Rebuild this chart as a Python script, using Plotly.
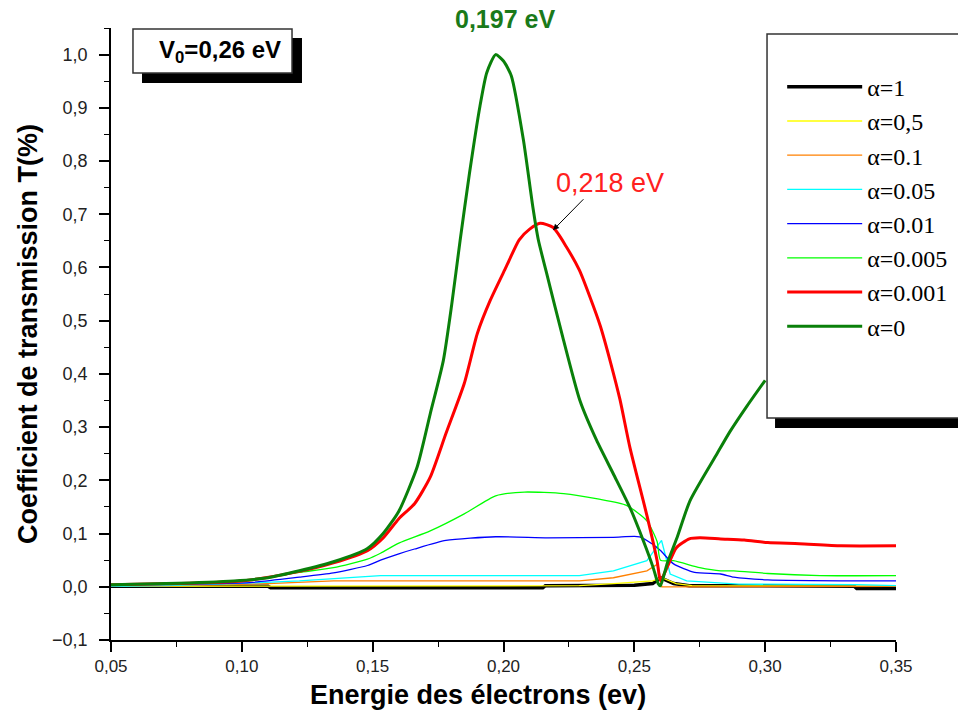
import plotly.graph_objects as go

# ---- data ----
x_a1 = [0.050, 0.110, 0.111, 0.215, 0.216, 0.250, 0.257, 0.260, 0.265, 0.271, 0.2885, 0.334, 0.335, 0.350]
y_a1 = [0.001, 0.001, -0.002, -0.002, 0.002, 0.003, 0.006, 0.017, 0.006, 0.002, 0.002, 0.001, -0.003, -0.003]

x_a05 = [0.050, 0.110, 0.150, 0.229, 0.242, 0.257, 0.2605, 0.266, 0.272, 0.350]
y_a05 = [0.001, 0.001, 0.002, 0.002, 0.006, 0.011, 0.017, 0.006, 0.002, 0.001]

x_a01 = [0.050, 0.078, 0.110, 0.135, 0.229, 0.242, 0.2548, 0.259, 0.2605, 0.263, 0.350]
y_a01 = [0.001, 0.002, 0.006, 0.011, 0.011, 0.017, 0.030, 0.043, 0.000, 0.000, 0.001]

x_a005 = [0.050, 0.071, 0.097, 0.122, 0.153, 0.229, 0.242, 0.2548, 0.2604, 0.2637, 0.270, 0.2815, 0.290, 0.335, 0.350]
y_a005 = [0.001, 0.002, 0.006, 0.011, 0.021, 0.021, 0.030, 0.049, 0.087, 0.024, 0.011, 0.008, 0.005, 0.004, 0.002]

x_a001 = [0.050, 0.103, 0.122, 0.135, 0.148, 0.153, 0.160, 0.166, 0.178, 0.197, 0.217, 0.242, 0.252, 0.257, 0.260, 0.265, 0.273, 0.283, 0.288, 0.301, 0.336, 0.350]
y_a001 = [0.004, 0.008, 0.018, 0.026, 0.040, 0.050, 0.062, 0.071, 0.087, 0.094, 0.092, 0.093, 0.094, 0.080, 0.068, 0.043, 0.027, 0.024, 0.018, 0.013, 0.011, 0.011]

x_a0005 = [0.050, 0.100, 0.122, 0.135, 0.148, 0.153, 0.160, 0.172, 0.185, 0.197, 0.208, 0.223, 0.236, 0.247, 0.2548, 0.2587, 0.260, 0.265, 0.275, 0.283, 0.288, 0.301, 0.321, 0.350]
y_a0005 = [0.004, 0.011, 0.027, 0.036, 0.052, 0.063, 0.082, 0.105, 0.137, 0.171, 0.178, 0.175, 0.165, 0.153, 0.124, 0.085, 0.050, 0.049, 0.036, 0.030, 0.030, 0.025, 0.021, 0.021]

x_a0001 = [0.050, 0.100, 0.122, 0.135, 0.148, 0.154, 0.160, 0.166, 0.172, 0.178, 0.185, 0.190, 0.195, 0.201, 0.206, 0.210, 0.214, 0.219, 0.224, 0.229, 0.233, 0.237, 0.241, 0.2445, 0.2483, 0.255, 0.2587, 0.260, 0.2625, 0.266, 0.271, 0.275, 0.283, 0.292, 0.301, 0.313, 0.329, 0.350]
y_a0001 = [0.004, 0.011, 0.029, 0.045, 0.068, 0.092, 0.128, 0.156, 0.206, 0.288, 0.382, 0.476, 0.539, 0.601, 0.652, 0.672, 0.683, 0.675, 0.639, 0.595, 0.545, 0.490, 0.420, 0.352, 0.262, 0.130, 0.049, 0.011, 0.036, 0.073, 0.090, 0.092, 0.090, 0.088, 0.083, 0.081, 0.077, 0.077]

x_a0 = [0.050, 0.071, 0.097, 0.110, 0.122, 0.135, 0.148, 0.154, 0.160, 0.167, 0.172, 0.177, 0.1802, 0.1834, 0.187, 0.191, 0.1936, 0.197, 0.200, 0.203, 0.2076, 0.2112, 0.2133, 0.2165, 0.2197, 0.2226, 0.2292, 0.2356, 0.242, 0.2483, 0.2534, 0.2572, 0.2591, 0.260, 0.2625, 0.2663, 0.2713, 0.2816, 0.2866, 0.2931, 0.300]
y_a0 = [0.004, 0.006, 0.011, 0.017, 0.030, 0.047, 0.072, 0.100, 0.142, 0.225, 0.325, 0.425, 0.530, 0.650, 0.777, 0.903, 0.966, 1.000, 0.988, 0.960, 0.840, 0.714, 0.652, 0.589, 0.526, 0.470, 0.350, 0.275, 0.212, 0.149, 0.087, 0.036, 0.006, 0.002, 0.043, 0.092, 0.162, 0.250, 0.292, 0.340, 0.388]

series_names = ["α=1", "α=0,5", "α=0.1", "α=0.05", "α=0.01", "α=0.005", "α=0.001", "α=0"]
series_x = [x_a1, x_a05, x_a01, x_a005, x_a001, x_a0005, x_a0001, x_a0]
series_y = [y_a1, y_a05, y_a01, y_a005, y_a001, y_a0005, y_a0001, y_a0]
colors = ["#000000", "#FFFF00", "#FF8000", "#00FFFF", "#0000FF", "#00FF00", "#FF0000", "#0A800A"]
widths = [3.5, 1.3, 1.3, 1.3, 1.3, 1.3, 3, 3]
shapes_line = ["linear", "linear", "linear", "linear", "spline", "spline", "spline", "spline"]

x_ticks = [0.05, 0.10, 0.15, 0.20, 0.25, 0.30, 0.35]
y_ticks = [-0.1, 0.0, 0.1, 0.2, 0.3, 0.4, 0.5, 0.6, 0.7, 0.8, 0.9, 1.0]

fig = go.Figure()
for i, (nm, xs, ys) in enumerate(zip(series_names, series_x, series_y)):
    fig.add_trace(go.Scatter(x=xs, y=ys, mode="lines", name=nm,
                             line=dict(color=colors[i], width=widths[i], shape=shapes_line[i],
                                       smoothing=0.6),
                             legendgroup=nm))

sans = "Liberation Sans, Arial, sans-serif"
fig.update_xaxes(range=[0.05, 0.35], tickvals=x_ticks, tickformat=".2f", automargin=False,
                 showgrid=False, zeroline=False, showline=True, linecolor="#000", linewidth=1.5,
                 ticks="outside", ticklen=10, tickwidth=1.5, tickcolor="#000",
                 minor=dict(ticks="outside", ticklen=5, dtick=0.025, tickcolor="#000", tickwidth=1.2),
                 tickfont=dict(family=sans, size=17, color="#222"))
fig.update_yaxes(range=[-0.1, 1.05], tickvals=y_ticks, tickformat=".1f", automargin=False,
                 showgrid=False, zeroline=False, showline=True, linecolor="#000", linewidth=1.5,
                 ticks="outside", ticklen=10, tickwidth=1.5, tickcolor="#000",
                 minor=dict(ticks="outside", ticklen=5, dtick=0.05, tickcolor="#000", tickwidth=1.2),
                 tickfont=dict(family=sans, size=18, color="#222"), ticklabelstandoff=8,
                 title=dict(text="<b>Coefficient de transmission T(%)</b>", standoff=7,
                            font=dict(family=sans, size=27, color="#000")))

shapes = [
    # legend box shadow and box
    dict(type="rect", xref="paper", yref="paper", x0=0.8459, x1=1.25, y0=0.3464, y1=0.9771,
         fillcolor="#000", line=dict(width=0), layer="above"),
    dict(type="rect", xref="paper", yref="paper", x0=0.8357, x1=1.24, y0=0.3627, y1=0.9902,
         fillcolor="#fff", line=dict(color="#333", width=1.5), layer="above"),
    # V0 box shadow and box
    dict(type="rect", xref="paper", yref="paper", x0=0.0395, x1=0.2433, y0=0.9101, y1=0.9837,
         fillcolor="#000", line=dict(width=0), layer="above"),
    dict(type="rect", xref="paper", yref="paper", x0=0.0280, x1=0.2306, y0=0.9265, y1=0.9984,
         fillcolor="#fff", line=dict(color="#333", width=1.5), layer="above"),
]

annotations = [
    dict(xref="paper", yref="paper", x=0.4675, y=-0.0899, xanchor="center", yanchor="middle",
         text="<b>Energie des électrons (ev)</b>", showarrow=False,
         font=dict(family=sans, size=27, color="#000")),
    dict(xref="paper", yref="paper", x=0.0586, y=0.962, xanchor="left", yanchor="middle",
         text="<b>V<sub>0</sub>=0,26 eV</b>",
         showarrow=False, font=dict(family=sans, size=24, color="#000")),
    dict(xref="x", yref="paper", x=0.2006, y=1.014, xanchor="center", yanchor="middle",
         text="<b>0,197 eV</b>", showarrow=False,
         font=dict(family=sans, size=25, color="#1a7a1a")),
    dict(xref="x", yref="y", x=0.2407, y=0.759, xanchor="center", yanchor="middle",
         text="0,218 eV", showarrow=False,
         font=dict(family=sans, size=27, color="#FF2020")),
    dict(xref="x", yref="y", x=0.2189, y=0.670, ax=0.2311, ay=0.731, axref="x", ayref="y",
         text="", showarrow=True, arrowhead=2, arrowsize=1.2, arrowwidth=1, arrowcolor="#000"),
]

fig.update_layout(
    width=966, height=716,
    margin=dict(l=103, r=78, t=20, b=84, autoexpand=False),
    paper_bgcolor="#fff", plot_bgcolor="#fff",
    separators=", ",
    shapes=shapes, annotations=annotations,
    showlegend=True,
    legend=dict(x=0.855, y=0.940, xanchor="left", yanchor="top", bgcolor="rgba(0,0,0,0)",
                borderwidth=0, itemwidth=75, tracegroupgap=0,
                font=dict(family="Liberation Serif, Times New Roman, serif", size=24, color="#000")),
)

fig.write_html("out.html")
